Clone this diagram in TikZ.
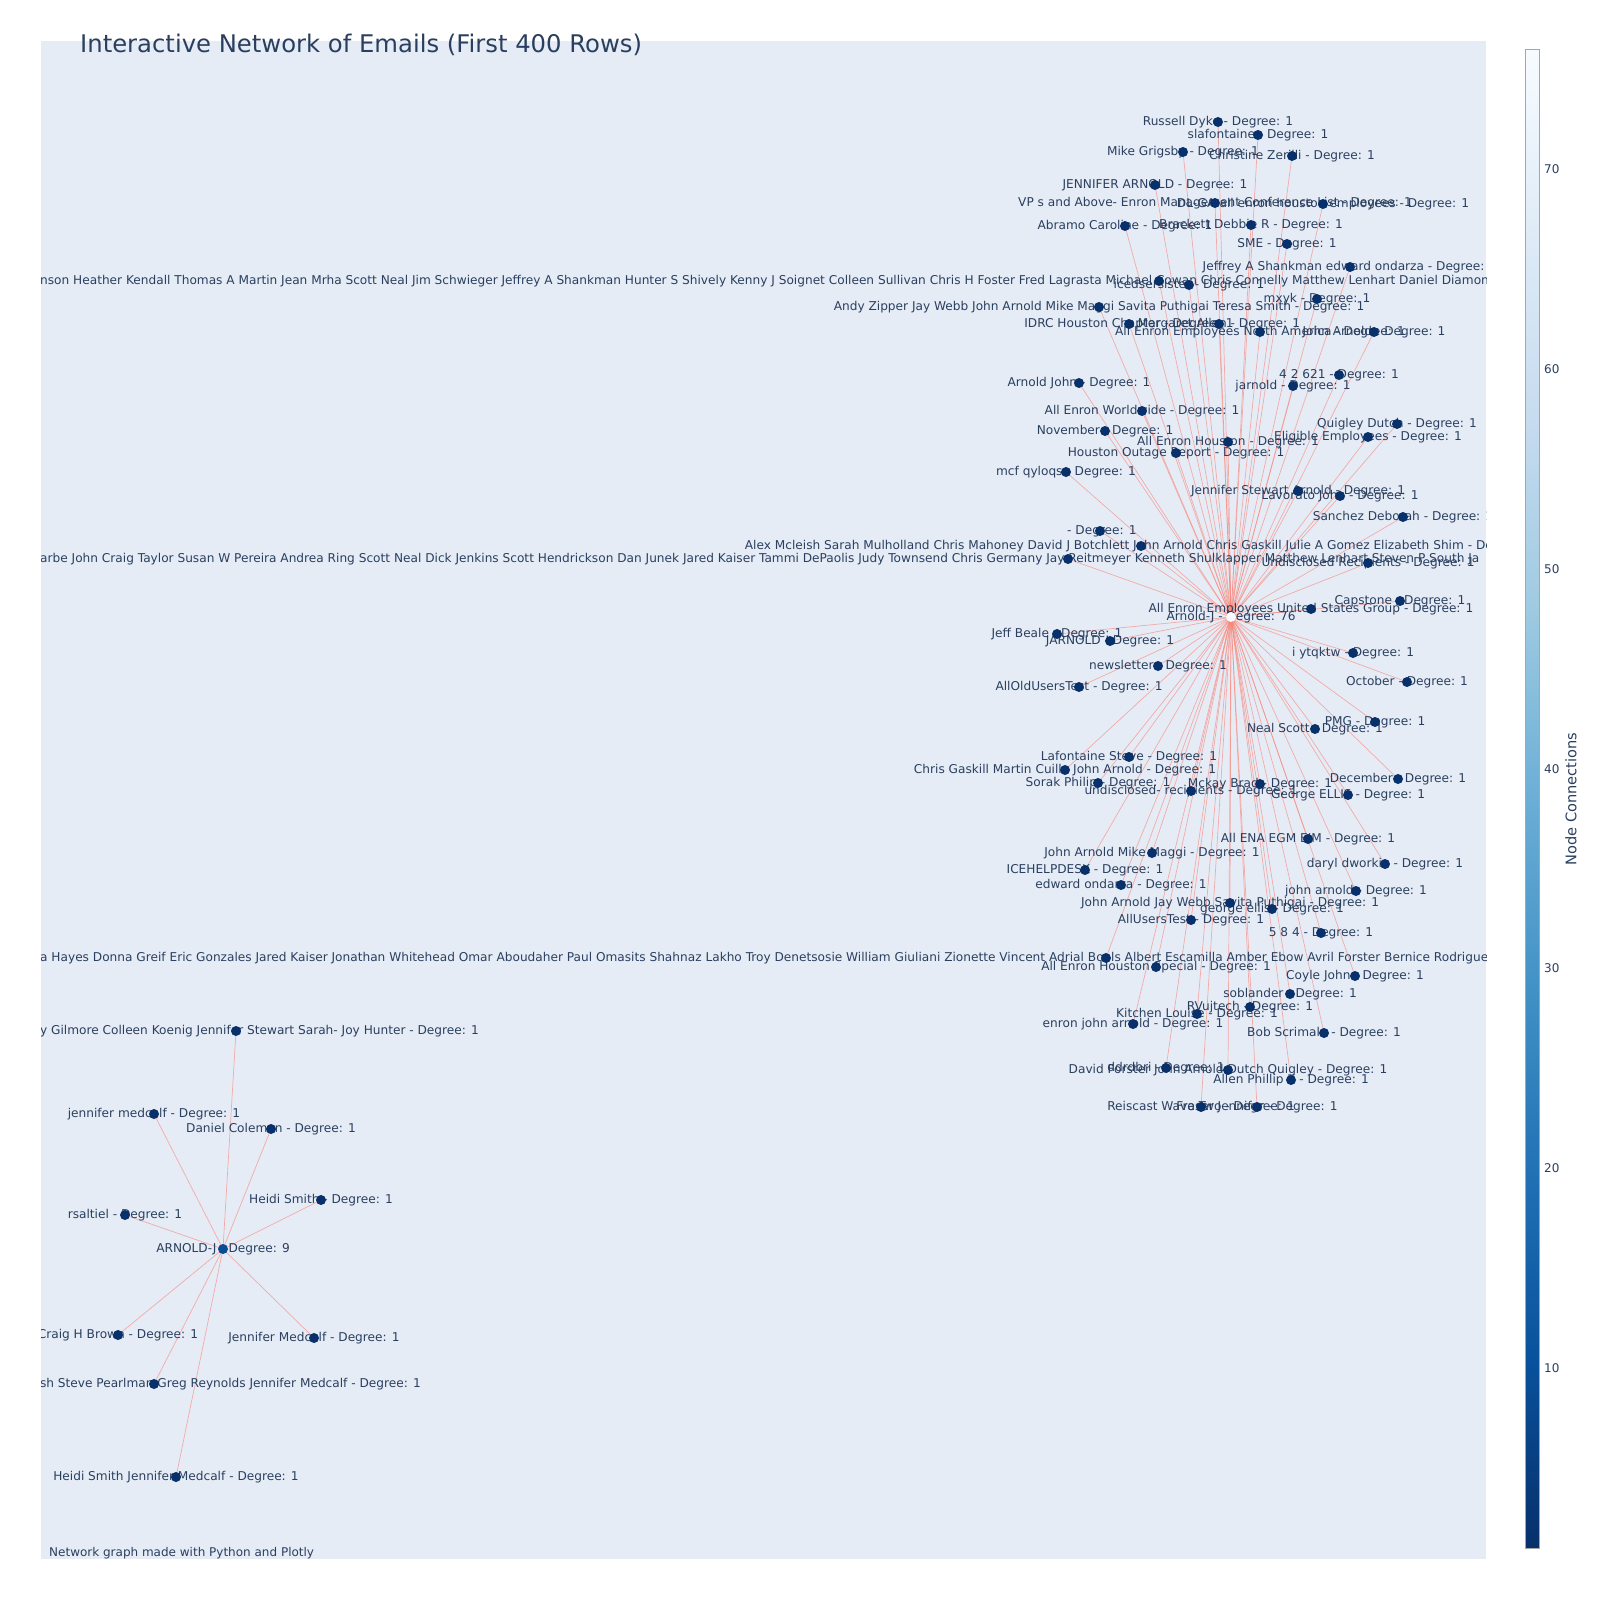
\documentclass[tikz,border=0pt]{standalone}
\usepackage{fontspec}
\setmainfont{DejaVu Sans}
\definecolor{txt}{HTML}{2A3F5F}
\definecolor{plotbg}{HTML}{E5ECF6}
\definecolor{nodec}{RGB}{8,48,107}
\definecolor{hubc}{RGB}{247,251,255}
\definecolor{hubtwoc}{RGB}{8,76,149}
\definecolor{edgec}{RGB}{250,128,114}
\definecolor{cbA}{RGB}{8,48,107}
\definecolor{cbB}{RGB}{8,81,156}
\definecolor{cbC}{RGB}{33,113,181}
\definecolor{cbD}{RGB}{66,146,198}
\definecolor{cbE}{RGB}{107,174,214}
\definecolor{cbF}{RGB}{158,202,225}
\definecolor{cbG}{RGB}{198,219,239}
\definecolor{cbH}{RGB}{222,235,247}
\definecolor{cbI}{RGB}{247,251,255}
\def\biglist{a1/1218/122/{Russell Dyke - Degree: 1},
a2/1258/135/{slafontaine - Degree: 1},
a3/1183/152/{Mike Grigsby - Degree: 1},
a4/1292/156/{Christine Zerilli - Degree: 1},
a5/1155/185/{JENNIFER ARNOLD - Degree: 1},
a6/1215/203/{VP s and Above- Enron Management Conference List - Degree: 1},
a7/1323/204/{DL-GA-all enron houston employees - Degree: 1},
a8/1125/226/{Abramo Caroline - Degree: 1},
a9/1251/225/{Brackett Debbie R - Degree: 1},
a10/1287/244/{SME - Degree: 1},
a11/1350/267/{Jeffrey A Shankman edward ondarza - Degree: 1},
a12/1159/281/{},
a13/1189/285/{icedsersister - Degree: 1},
a14/1317/299/{mxyk - Degree: 1},
a15/1099/307/{Andy Zipper Jay Webb John Arnold Mike Maggi Savita Puthigai Teresa Smith - Degree: 1},
a16/1129/324/{IDRC Houston Chapter - Degree: 1},
a17/1219/324/{Margaret Allen - Degree: 1},
a18/1260/332/{All Enron Employees North America - Degree: 1},
a19/1374/332/{John Arnold - Degree: 1},
a20/1079/383/{Arnold John - Degree: 1},
a21/1339/375/{4 2 621 - Degree: 1},
a22/1293/386/{jarnold - Degree: 1},
a23/1142/411/{All Enron Worldwide - Degree: 1},
a24/1105/431/{November - Degree: 1},
a25/1397/424/{Quigley Dutch - Degree: 1},
a26/1228/442/{All Enron Houston - Degree: 1},
a27/1368/437/{Eligible Employees - Degree: 1},
a28/1176/453/{Houston Outage Report - Degree: 1},
a29/1066/472/{mcf qyloqs - Degree: 1},
a30/1298/491/{Jennifer Stewart Arnold - Degree: 1},
a31/1340/496/{Lavorato John - Degree: 1},
a32/1403/517/{Sanchez Deborah - Degree: 1},
a33/1100/531/{\ - Degree: 1},
a34/1141/546/{Alex Mcleish Sarah Mulholland Chris Mahoney David J Botchlett John Arnold Chris Gaskill Julie A Gomez Elizabeth Shim - Degree: 1},
a35/1068/559/{},
a36/1368/563/{Undisclosed Recipients - Degree: 1},
a37/1400/601/{Capstone - Degree: 1},
a38/1311/609/{All Enron Employees United States Group - Degree: 1},
a40/1057/634/{Jeff Beale - Degree: 1},
a41/1110/641/{JARNOLD - Degree: 1},
a42/1353/653/{i ytqktw - Degree: 1},
a43/1158/666/{newsletter - Degree: 1},
a44/1407/682/{October - Degree: 1},
a45/1079/687/{AllOldUsersTest - Degree: 1},
a46/1375/722/{PMG - Degree: 1},
a47/1315/729/{Neal Scott - Degree: 1},
a48/1129/757/{Lafontaine Steve - Degree: 1},
a49/1065/770/{Chris Gaskill Martin Cuilla John Arnold - Degree: 1},
a50/1098/783/{Sorak Philip - Degree: 1},
a51/1260/784/{Mckay Brad - Degree: 1},
a52/1191/791/{undisclosed- recipients - Degree: 1},
a53/1398/779/{December - Degree: 1},
a54/1348/795/{George ELLIS - Degree: 1},
a55/1308/839/{All ENA EGM EIM - Degree: 1},
a56/1152/853/{John Arnold Mike Maggi - Degree: 1},
a57/1385/864/{daryl dworkin - Degree: 1},
a58/1085/870/{ICEHELPDESK - Degree: 1},
a59/1121/885/{edward ondarza - Degree: 1},
a60/1356/891/{john arnold - Degree: 1},
a61/1230/903/{John Arnold Jay Webb Savita Puthigai - Degree: 1},
a62/1272/909/{george ellis - Degree: 1},
a63/1191/920/{AllUsersTest - Degree: 1},
a64/1321/933/{5 8 4 - Degree: 1},
a65/1106/958/{},
a66/1156/967/{All Enron Houston Special - Degree: 1},
a67/1355/976/{Coyle John - Degree: 1},
a68/1290/994/{soblander - Degree: 1},
a69/1250/1007/{RVujtech - Degree: 1},
a70/1197/1014/{Kitchen Louise - Degree: 1},
a71/1133/1024/{enron john arnold - Degree: 1},
a72/1324/1033/{Bob Scrimale - Degree: 1},
a73/1166/1068/{ddrdbri - Degree: 1},
a74/1228/1070/{David Forster John Arnold Dutch Quigley - Degree: 1},
a75/1291/1080/{Allen Phillip K - Degree: 1},
a76/1201/1107/{Reiscast Wave Two - Degree: 1},
a77/1257/1107/{Fraser Jennifer - Degree: 1}}
\def\smalllist{b1/154/1114/{jennifer medcalf - Degree: 1},
b2/271/1129/{Daniel Coleman - Degree: 1},
b3/321/1200/{Heidi Smith - Degree: 1},
b4/125/1215/{rsaltiel - Degree: 1},
b5/118/1335/{Craig H Brown - Degree: 1},
b6/314/1338/{Jennifer Medcalf - Degree: 1},
b7/154/1384/{},
b8/176/1477/{Heidi Smith Jennifer Medcalf - Degree: 1},
b9/236/1031/{}}
\begin{document}
\begin{tikzpicture}[x=1pt,y=-1pt,
  lbl/.style={inner sep=0pt, text=txt, font=\fontsize{12.15}{14}\selectfont},
  gdot/.style={circle, fill=nodec, inner sep=0pt, minimum size=10pt},
  lnk/.style={draw=edgec, line width=0.7pt, opacity=0.6}]
\useasboundingbox (0,0) rectangle (1600,1600);
\fill[white] (0,0) rectangle (1600,1600);
\fill[plotbg] (41,41) rectangle (1486,1559);
\begin{scope}
\clip (41,41) rectangle (1486,1559);
\coordinate (hub) at (1231,617);
\coordinate (hubtwo) at (223,1249);
\foreach \n/\x/\y/\t in \biglist {\coordinate (\n) at (\x,\y);}
\foreach \n/\x/\y/\t in \smalllist {\coordinate (\n) at (\x,\y);}
% edges
\foreach \n/\x/\y/\t in \biglist {\draw[lnk] (hub) -- (\n);}
\foreach \n/\x/\y/\t in \smalllist {\draw[lnk] (hubtwo) -- (\n);}
% labels
\foreach \n/\x/\y/\t in \biglist {\node[lbl] at (\n) {\t};}
\foreach \n/\x/\y/\t in \smalllist {\node[lbl] at (\n) {\t};}
\node[lbl] (hublbl) at (hub) {Arnold-J - Degree: 76};
\node[lbl] (hubtwolbl) at (hubtwo) {ARNOLD-J - Degree: 9};
\node[lbl, anchor=west] (l12) at (40,281) {nson Heather Kendall Thomas A Martin Jean Mrha Scott Neal Jim Schwieger Jeffrey A Shankman Hunter S Shively Kenny J Soignet Colleen Sullivan Chris H Foster Fred Lagrasta Michael Cowan Chris Connelly Matthew Lenhart Daniel Diamon};
\node[lbl, anchor=west] (l35) at (40,559) {arbe John Craig Taylor Susan W Pereira Andrea Ring Scott Neal Dick Jenkins Scott Hendrickson Dan Junek Jared Kaiser Tammi DePaolis Judy Townsend Chris Germany Jay Reitmeyer Kenneth Shulklapper Matthew Lenhart Steven P South Ja};
\node[lbl, anchor=west] (l65) at (40,958) {a Hayes Donna Greif Eric Gonzales Jared Kaiser Jonathan Whitehead Omar Aboudaher Paul Omasits Shahnaz Lakho Troy Denetsosie William Giuliani Zionette Vincent Adrial Boals Albert Escamilla Amber Ebow Avril Forster Bernice Rodriguez};
\node[lbl, anchor=east] (l7) at (421,1384) {esh Steve Pearlman Greg Reynolds Jennifer Medcalf - Degree: 1};
\node[lbl, anchor=east] (l9) at (479,1031) {y Gilmore Colleen Koenig Jennifer Stewart Sarah- Joy Hunter - Degree: 1};
% dots
\foreach \n/\x/\y/\t in \biglist {\node[gdot] (\n-d) at (\n) {};}
\foreach \n/\x/\y/\t in \smalllist {\node[gdot] (\n-d) at (\n) {};}
\node[gdot, fill=hubc] (hub-d) at (hub) {};
\node[gdot, fill=hubtwoc] (hubtwo-d) at (hubtwo) {};
\end{scope}
% title and footer
\node[anchor=base west, inner sep=0pt, text=txt, font=\fontsize{24.3}{28}\selectfont] (title) at (80,53) {Interactive Network of Emails (First 400 Rows)};
\node[lbl, anchor=west, font=\fontsize{12}{14}\selectfont] (foot) at (49,1553) {Network graph made with Python and Plotly};
% colorbar
\shade[bottom color=cbA, top color=cbB] (1525,1548.2) rectangle (1539,1360.4);
\shade[bottom color=cbB, top color=cbC] (1525,1360.9) rectangle (1539,1173.0);
\shade[bottom color=cbC, top color=cbD] (1525,1173.5) rectangle (1539,985.7);
\shade[bottom color=cbD, top color=cbE] (1525,986.2) rectangle (1539,798.4);
\shade[bottom color=cbE, top color=cbF] (1525,798.9) rectangle (1539,611.0);
\shade[bottom color=cbF, top color=cbG] (1525,611.5) rectangle (1539,423.7);
\shade[bottom color=cbG, top color=cbH] (1525,424.2) rectangle (1539,236.3);
\shade[bottom color=cbH, top color=cbI] (1525,236.8) rectangle (1539,49.5);
\draw[gray!70, line width=1pt] (1525,1548.2) rectangle (1539,49.5);
\foreach \v/\yy in {70/169.4,60/369.2,50/569.0,40/768.8,30/968.6,20/1168.4,10/1368.2}
  {\node[lbl, anchor=west, font=\fontsize{12}{14}\selectfont] (tick\v) at (1544,\yy) {\v};}
\node[lbl, rotate=90, font=\fontsize{14.6}{16}\selectfont] (cbtitle) at (1571,799) {Node Connections};
\end{tikzpicture}
\end{document}
